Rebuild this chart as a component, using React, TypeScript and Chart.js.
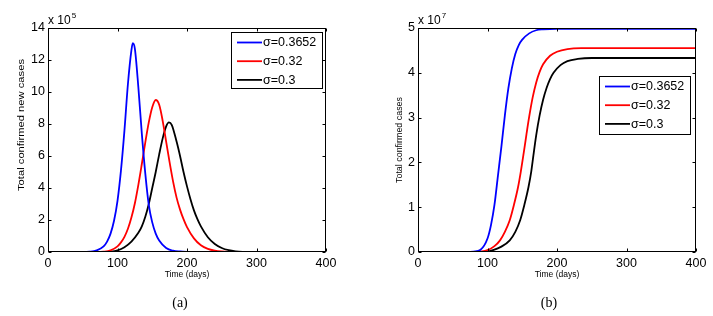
import React, { useEffect, useRef } from "react";
import { Chart, registerables } from "chart.js";

Chart.register(...registerables);

// ---- data ----
const seriesLabels = ["σ=0.3652", "σ=0.32", "σ=0.3"];
const seriesColors = ["#0000ff", "#ff0000", "#000000"];

const xTicks = [0, 100, 200, 300, 400];
const yTicksNew = [0, 2, 4, 6, 8, 10, 12, 14]; // x 10^5
const yTicksTotal = [0, 1, 2, 3, 4, 5]; // x 10^7

// (a) Total confirmed new cases, units of 10^5, [day, value]
const newBlue = [[0,0],[50,0],[60,0.02],[70,0.1],[80,0.35],[85,0.65],[90,1.15],[95,1.95],[100,3.2],[105,5.1],[110,7.6],[115,10.5],[120,12.6],[122,13.05],[125,12.7],[130,10.3],[135,7.4],[140,4.9],[145,2.95],[150,1.85],[155,1.15],[160,0.72],[170,0.25],[180,0.08],[190,0.03],[200,0.01],[220,0],[400,0]];
const newRed = [[0,0],[70,0],[80,0.02],[90,0.1],[100,0.35],[105,0.6],[110,0.95],[115,1.45],[120,2.15],[125,3.05],[130,4.2],[135,5.5],[140,6.85],[145,8.1],[150,9.05],[155,9.5],[160,9.2],[165,8.2],[170,6.9],[175,5.6],[180,4.4],[185,3.4],[190,2.65],[195,2.05],[200,1.55],[210,0.85],[220,0.42],[230,0.19],[240,0.08],[250,0.03],[260,0.01],[280,0],[400,0]];
const newBlack = [[0,0],[80,0],[90,0.02],[100,0.1],[110,0.3],[120,0.65],[130,1.2],[135,1.6],[140,2.2],[145,3.0],[150,4.0],[155,5.0],[160,6.1],[165,7.1],[170,7.85],[174,8.1],[178,7.95],[185,6.9],[190,6.0],[195,5.0],[200,4.1],[205,3.3],[210,2.6],[215,2.05],[220,1.6],[230,0.92],[240,0.5],[250,0.25],[260,0.11],[270,0.04],[280,0.01],[300,0],[400,0]];

// (b) Total confirmed cases, units of 10^7, [day, value]
const totalBlue = [[0,0],[70,0],[80,0.01],[90,0.05],[100,0.3],[105,0.6],[110,1.05],[115,1.7],[120,2.35],[125,3.05],[130,3.65],[135,4.1],[140,4.42],[145,4.62],[150,4.74],[160,4.88],[170,4.95],[180,4.97],[200,4.98],[400,4.98]];
const totalRed = [[0,0],[80,0],[90,0.01],[100,0.04],[110,0.13],[118,0.26],[125,0.45],[132,0.71],[138,1.05],[144,1.45],[148,1.8],[152,2.2],[156,2.62],[160,3.02],[165,3.45],[170,3.78],[175,4.02],[180,4.19],[190,4.38],[200,4.47],[215,4.53],[235,4.55],[400,4.55]];
const totalBlack = [[0,0],[90,0],[100,0.01],[108,0.04],[120,0.12],[132,0.26],[140,0.45],[147,0.71],[153,1.05],[159,1.45],[163,1.8],[166,2.15],[170,2.6],[175,3.05],[180,3.4],[185,3.66],[190,3.86],[195,4.0],[205,4.17],[215,4.26],[230,4.31],[250,4.33],[400,4.33]];

const FONT = "'Liberation Sans', Arial, sans-serif";

const matlabPlugin = {
  id: "matlabExtras",
  afterDatasetsDraw(chart: any, _args: any, opts: any) {
    const { ctx, chartArea: a, scales } = chart;
    ctx.save();
    // box
    ctx.strokeStyle = "#000";
    ctx.lineWidth = 1;
    const L = Math.round(a.left) + 0.5, T = Math.round(a.top) + 0.5;
    const R = Math.round(a.right) - 0.5, B = Math.round(a.bottom) - 0.5;
    ctx.strokeRect(L, T, R - L, B - T);
    // inward ticks
    const tl = 3;
    ctx.beginPath();
    scales.x.ticks.forEach((t: any) => {
      const px = Math.round(scales.x.getPixelForValue(t.value)) + 0.5;
      ctx.moveTo(px, B); ctx.lineTo(px, B - tl);
      ctx.moveTo(px, T); ctx.lineTo(px, T + tl);
    });
    scales.y.ticks.forEach((t: any) => {
      const py = Math.round(scales.y.getPixelForValue(t.value)) + 0.5;
      ctx.moveTo(L, py); ctx.lineTo(L + tl, py);
      ctx.moveTo(R, py); ctx.lineTo(R - tl, py);
    });
    ctx.stroke();

    // legend
    const lg = opts.legend;
    ctx.fillStyle = "#fff";
    ctx.fillRect(lg.x, lg.y, lg.w, lg.h);
    ctx.strokeRect(lg.x + 0.5, lg.y + 0.5, lg.w, lg.h);
    ctx.font = `${opts.legendFont}px ${FONT}`;
    ctx.textBaseline = "middle";
    ctx.textAlign = "left";
    chart.data.datasets.forEach((ds: any, i: number) => {
      const y = lg.y + 10.5 + i * 18.7;
      ctx.strokeStyle = ds.borderColor;
      ctx.lineWidth = 1.8;
      ctx.beginPath();
      ctx.moveTo(lg.x + 6, y); ctx.lineTo(lg.x + 31, y);
      ctx.stroke();
      ctx.fillStyle = "#000";
      ctx.fillText(ds.label, lg.x + 32, y + 0.5);
    });
    ctx.restore();
  },
  afterDraw(chart: any, _args: any, opts: any) {
    const { ctx, chartArea: a } = chart;
    ctx.save();
    ctx.fillStyle = "#000";
    // exponent
    ctx.textAlign = "left";
    ctx.textBaseline = "alphabetic";
    ctx.font = `12px ${FONT}`;
    const base = "x 10";
    ctx.fillText(base, a.left, 24);
    const bw = ctx.measureText(base).width;
    ctx.font = `8px ${FONT}`;
    ctx.fillText(opts.exponent, a.left + bw + 1, 18);
    // x title
    ctx.font = `8.5px ${FONT}`;
    ctx.textAlign = "center";
    ctx.textBaseline = "middle";
    ctx.fillText("Time (days)", (a.left + a.right) / 2, 275);
    // y title (rotated, stretched to length)
    ctx.save();
    ctx.translate(opts.yTitle.x, opts.yTitle.y);
    ctx.rotate(-Math.PI / 2);
    const w = ctx.measureText(opts.yTitle.text).width;
    ctx.scale(opts.yTitle.len / w, 1);
    ctx.fillText(opts.yTitle.text, 0, 0);
    ctx.restore();
    // caption
    ctx.font = `14px 'Liberation Serif', 'Times New Roman', serif`;
    ctx.textAlign = "center";
    ctx.fillText(opts.caption.text, opts.caption.x, 303);
    ctx.restore();
  },
};

function makeConfig(series: number[][][], yTicks: number[], extras: any, yWidth: number, padRight: number) {
  return {
    type: "line",
    data: {
      datasets: series.map((s, i) => ({
        label: seriesLabels[i],
        data: s.map(([x, y]) => ({ x, y })),
        borderColor: seriesColors[i],
        backgroundColor: seriesColors[i],
        borderWidth: 1.8,
        pointRadius: 0,
        fill: false,
        cubicInterpolationMode: "monotone",
      })),
    },
    options: {
      animation: false,
      responsive: false,
      maintainAspectRatio: false,
      layout: { padding: { left: 0, right: padRight, top: 28, bottom: 0 } },
      plugins: {
        legend: { display: false },
        title: { display: false },
        tooltip: { enabled: false },
        matlabExtras: extras,
      },
      scales: {
        x: {
          type: "linear",
          min: xTicks[0],
          max: xTicks[xTicks.length - 1],
          afterBuildTicks: (s: any) => { s.ticks = xTicks.map((v) => ({ value: v })); },
          afterFit: (s: any) => { s.height = 64; },
          grid: { display: false, drawTicks: false },
          border: { display: false },
          ticks: { color: "#000", padding: 4, maxRotation: 0, autoSkip: false, font: { size: 12.5, family: FONT } },
        },
        y: {
          type: "linear",
          min: yTicks[0],
          max: yTicks[yTicks.length - 1],
          afterBuildTicks: (s: any) => { s.ticks = yTicks.map((v) => ({ value: v })); },
          afterFit: (s: any) => { s.width = yWidth; },
          grid: { display: false, drawTicks: false },
          border: { display: false },
          ticks: { color: "#000", padding: 3, autoSkip: false, font: { size: 12.5, family: FONT } },
        },
      },
    },
    plugins: [matlabPlugin],
  };
}

export default function App() {
  const refA = useRef<HTMLCanvasElement>(null);
  const refB = useRef<HTMLCanvasElement>(null);

  useEffect(() => {
    const chartA = new Chart(refA.current as any, makeConfig(
      [newBlue, newRed, newBlack], yTicksNew,
      {
        legend: { x: 231, y: 32, w: 91, h: 56 },
        legendFont: 12.5,
        exponent: "5",
        yTitle: { text: "Total confirmed new cases", x: 22, y: 125, len: 132 },
        caption: { text: "(a)", x: 180 },
      }, 48, 34) as any);
    const chartB = new Chart(refB.current as any, makeConfig(
      [totalBlue, totalRed, totalBlack], yTicksTotal,
      {
        legend: { x: 239, y: 76, w: 91, h: 58 },
        legendFont: 12.5,
        exponent: "7",
        yTitle: { text: "Total confirmed cases", x: 39.5, y: 140, len: 86 },
        caption: { text: "(b)", x: 189 },
      }, 58, 17) as any);
    return () => { chartA.destroy(); chartB.destroy(); };
  }, []);

  return (
    <div style={{ position: "absolute", left: 0, top: 0, width: 713, height: 316, background: "#fff" }}>
      <canvas ref={refA} width={360} height={316} style={{ position: "absolute", left: 0, top: 0, width: 360, height: 316 }} />
      <canvas ref={refB} width={353} height={316} style={{ position: "absolute", left: 360, top: 0, width: 353, height: 316 }} />
    </div>
  );
}
